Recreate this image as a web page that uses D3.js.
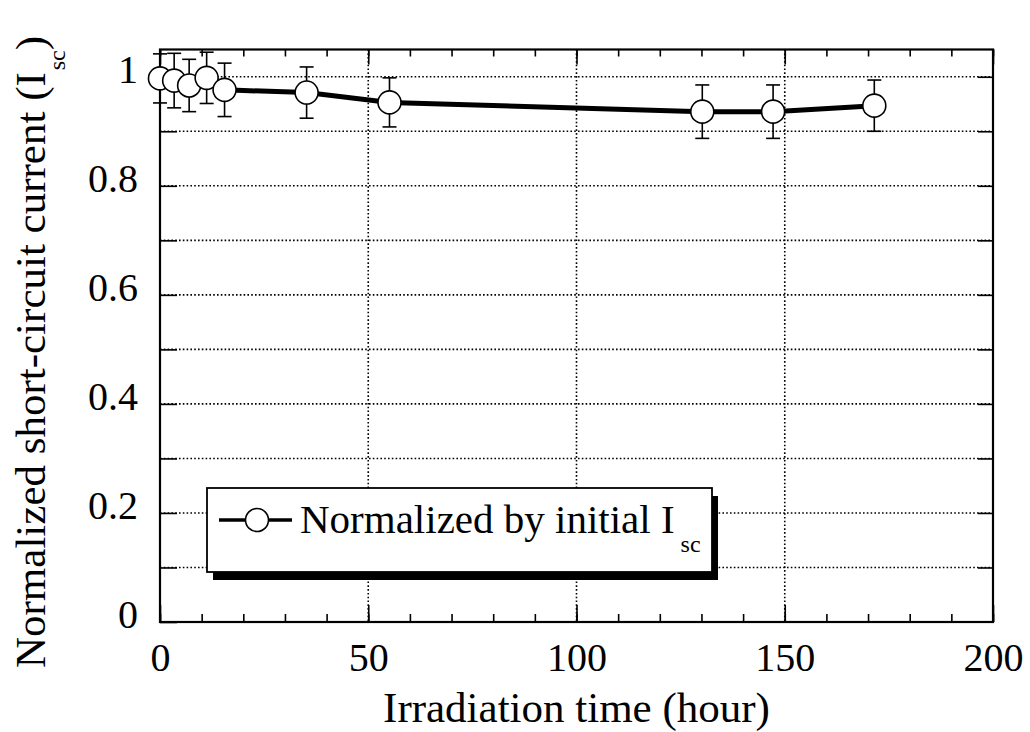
<!DOCTYPE html>
<html>
<head>
<meta charset="utf-8">
<script src="https://cdn.jsdelivr.net/npm/d3@7"></script>
<style>
  body { margin: 0; background: #fff; }
  text { font-family: "Liberation Serif", "Times New Roman", serif; fill: #000; }
</style>
</head>
<body>
<svg width="1030" height="732"></svg>
<script>
// irradiation time (hour) and normalized Isc
const hours = [0, 3.4, 7, 11.2, 15.5, 35.2, 55.1, 130.2, 147.2, 171.5];
const isc   = [0.997, 0.993, 0.984, 0.998, 0.976, 0.971, 0.953, 0.936, 0.936, 0.947];
const err   = [0.045, 0.050, 0.048, 0.047, 0.049, 0.047, 0.045, 0.049, 0.049, 0.047];
const xTicks = [0, 50, 100, 150, 200];
const yTicks = [0, 0.2, 0.4, 0.6, 0.8, 1];

var svg = d3.select("svg"),
    margin = {top: 49.5, right: 37, bottom: 110, left: 160},
    width = +svg.attr("width") - margin.left - margin.right,
    height = +svg.attr("height") - margin.top - margin.bottom;

var x = d3.scaleLinear().domain([0, 200]).range([0, width]),
    y = d3.scaleLinear().domain([0, 1.05]).range([height, 0]);

var g = svg.append("g")
    .attr("transform", "translate(" + margin.left + "," + margin.top + ")");

var data = hours.map(function(h, i) { return {t: h, v: isc[i], e: err[i]}; });

// dotted grid
var gridY = d3.range(1, 11).map(function(d) { return d / 10; });
g.selectAll(".gy").data(gridY).enter().append("line")
    .attr("x1", 0).attr("x2", width)
    .attr("y1", function(d) { return y(d); }).attr("y2", function(d) { return y(d); })
    .attr("stroke", "#000").attr("stroke-width", 1.6).attr("stroke-dasharray", "1.6,2.2");
g.selectAll(".gx").data([50, 100, 150]).enter().append("line")
    .attr("y1", 0).attr("y2", height)
    .attr("x1", function(d) { return x(d); }).attr("x2", function(d) { return x(d); })
    .attr("stroke", "#000").attr("stroke-width", 1.6).attr("stroke-dasharray", "1.6,2.2");

// axes: ticks inward
var minorX = d3.range(0, 201, 10);
g.append("g").attr("transform", "translate(0," + height + ")")
    .call(d3.axisBottom(x).tickValues(minorX).tickSize(-8).tickFormat(""));
g.append("g").attr("transform", "translate(0," + height + ")")
    .call(d3.axisBottom(x).tickValues(xTicks).tickSize(-17).tickPadding(21).tickFormat(d3.format("d")));
g.append("g")
    .call(d3.axisTop(x).tickValues(minorX).tickSize(-7).tickFormat(""));
g.append("g")
    .call(d3.axisTop(x).tickValues(xTicks).tickSize(-15).tickFormat(""));
g.append("g")
    .call(d3.axisLeft(y).tickValues(gridY.concat([0])).tickSize(-17).tickFormat(""));
var yAx = g.append("g")
    .call(d3.axisLeft(y).tickValues(yTicks).tickSize(0).tickPadding(22).tickFormat(d3.format("~g")));
g.append("g").attr("transform", "translate(" + width + ",0)")
    .call(d3.axisRight(y).tickValues(gridY).tickSize(-15).tickFormat(""));

g.selectAll(".domain").remove();
g.selectAll(".tick line").attr("stroke", "#000").attr("stroke-width", 1.6);
g.selectAll(".tick text").attr("font-size", 40).attr("font-family", "Liberation Serif");
yAx.selectAll("text").attr("dy", "0.14em");

g.append("rect")
    .attr("width", width).attr("height", height)
    .attr("fill", "none").attr("stroke", "#000").attr("stroke-width", 2.2);

// data line
var line = d3.line()
    .x(function(d) { return x(d.t); })
    .y(function(d) { return y(d.v); });
g.append("path").datum(data)
    .attr("d", line)
    .attr("fill", "none").attr("stroke", "#000").attr("stroke-width", 5);

// error bars
var eb = g.selectAll(".eb").data(data).enter().append("g");
eb.append("line")
    .attr("x1", function(d) { return x(d.t); }).attr("x2", function(d) { return x(d.t); })
    .attr("y1", function(d) { return y(d.v + d.e); }).attr("y2", function(d) { return y(d.v - d.e); })
    .attr("stroke", "#000").attr("stroke-width", 1.6);
[1, -1].forEach(function(s) {
  eb.append("line")
      .attr("x1", function(d) { return x(d.t) - 7; }).attr("x2", function(d) { return x(d.t) + 7; })
      .attr("y1", function(d) { return y(d.v + s * d.e); }).attr("y2", function(d) { return y(d.v + s * d.e); })
      .attr("stroke", "#000").attr("stroke-width", 1.6);
});

g.selectAll(".pt").data(data).enter().append("circle")
    .attr("cx", function(d) { return x(d.t); })
    .attr("cy", function(d) { return y(d.v); })
    .attr("r", 11.5)
    .attr("fill", "#fff").attr("stroke", "#000").attr("stroke-width", 1.6);

// legend with drop shadow
var lg = svg.append("g").attr("transform", "translate(207,488)");
lg.append("rect").attr("x", 6).attr("y", 8).attr("width", 505).attr("height", 84).attr("fill", "#000");
lg.append("rect").attr("width", 505).attr("height", 84)
    .attr("fill", "#fff").attr("stroke", "#000").attr("stroke-width", 1.8);
lg.append("line").attr("x1", 12).attr("x2", 85).attr("y1", 32).attr("y2", 32)
    .attr("stroke", "#000").attr("stroke-width", 3.5);
lg.append("circle").attr("cx", 50).attr("cy", 32).attr("r", 11.5)
    .attr("fill", "#fff").attr("stroke", "#000").attr("stroke-width", 1.6);
var lt = lg.append("text").attr("x", 93).attr("y", 45).attr("font-size", 41);
lt.append("tspan").text("Normalized by initial I");
lt.append("tspan").attr("dx", 6).attr("dy", 19).attr("font-size", 24).text("sc");

// axis titles
svg.append("text")
    .attr("x", margin.left + width / 2).attr("y", 722)
    .attr("text-anchor", "middle").attr("font-size", 43)
    .text("Irradiation time (hour)");

var yt = svg.append("text")
    .attr("transform", "translate(45,668) rotate(-90)")
    .attr("font-size", 43);
yt.append("tspan").text("Normalized short-circuit current (I");
yt.append("tspan").attr("dx", 2).attr("dy", 20).attr("font-size", 24).text("sc");
yt.append("tspan").attr("dy", -20).text(")");
</script>
</body>
</html>
